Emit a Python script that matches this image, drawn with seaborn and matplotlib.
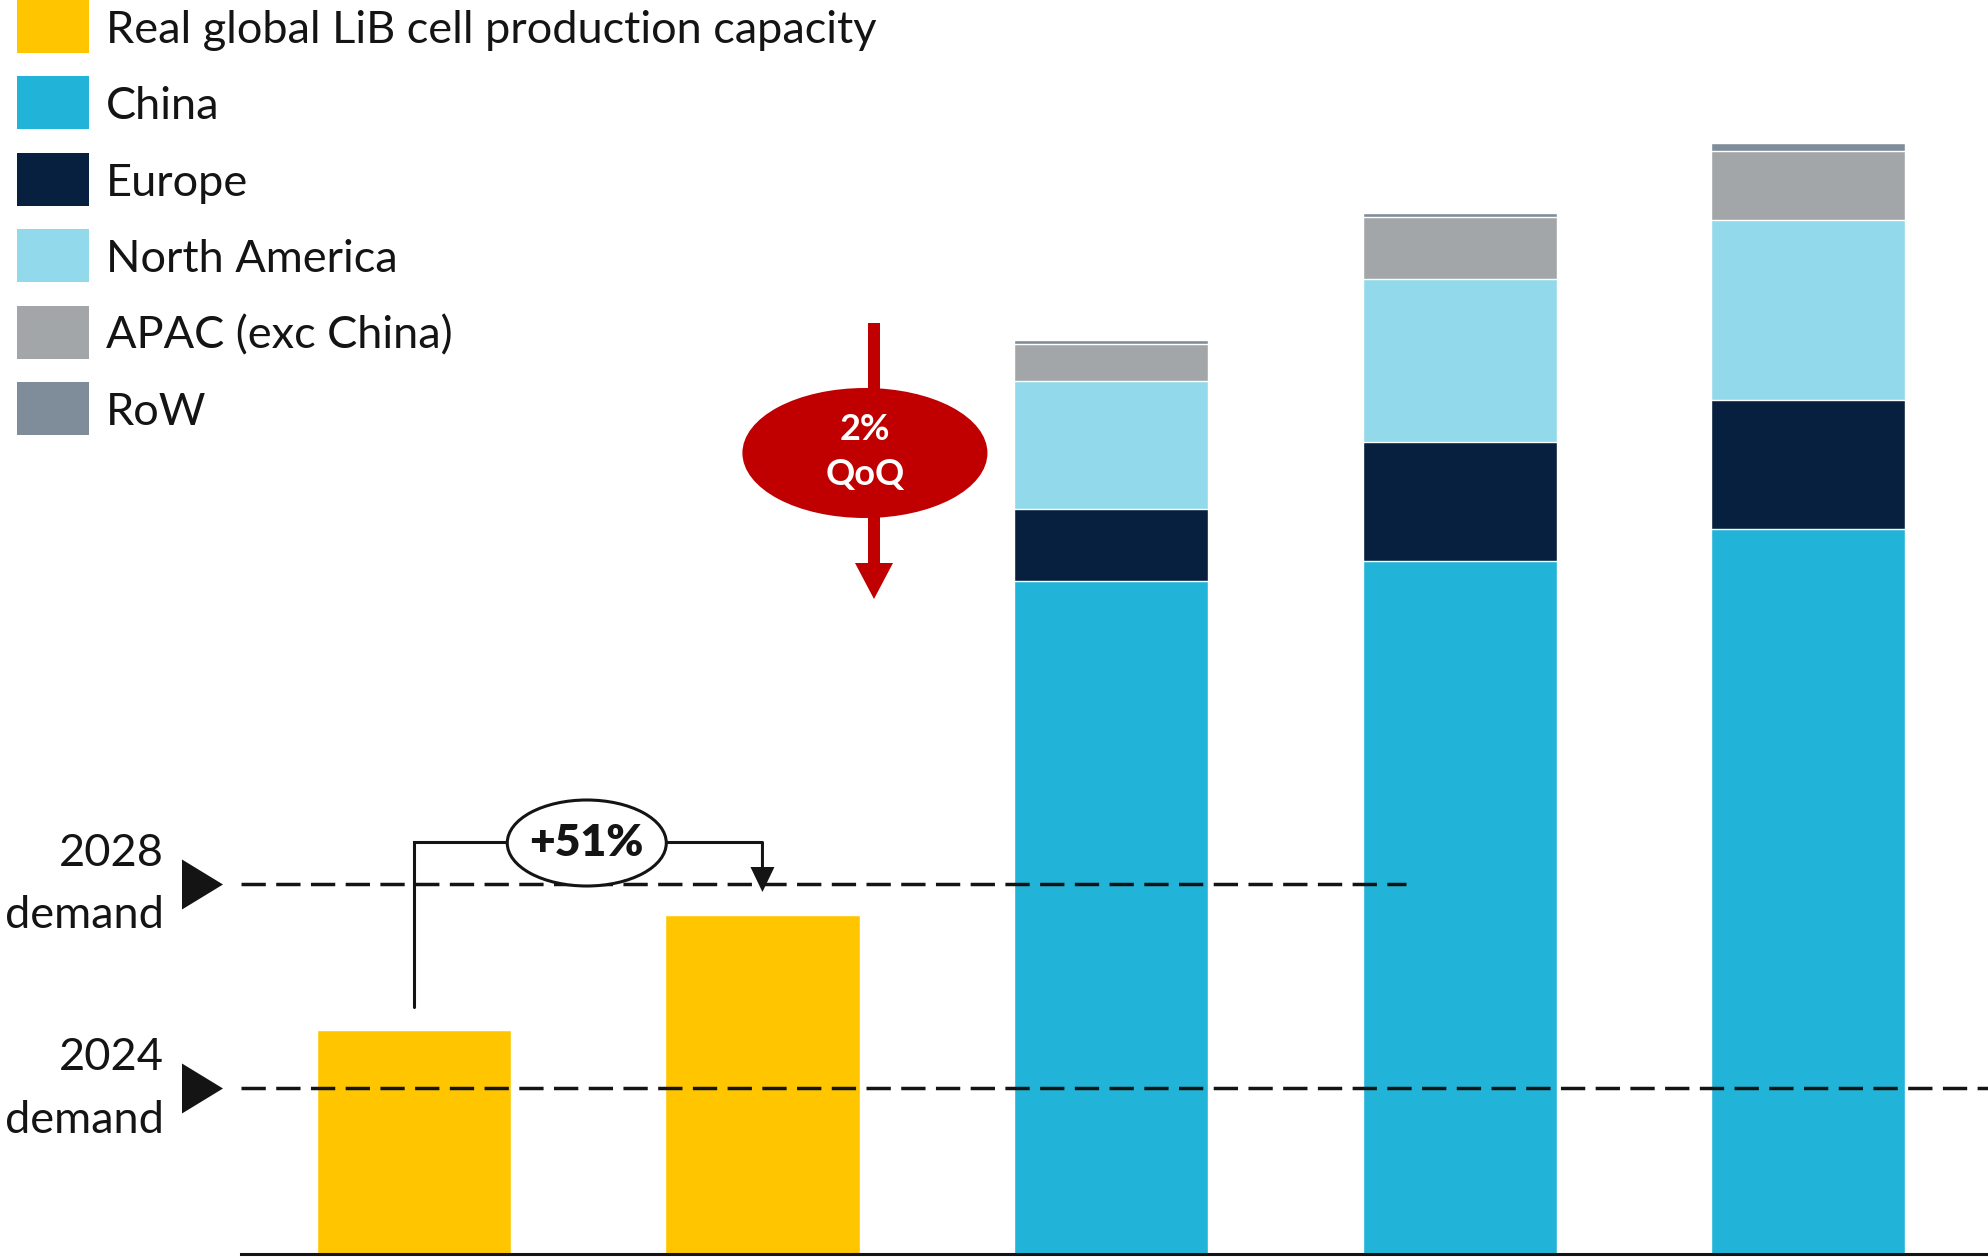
import numpy as np
import pandas as pd
import seaborn as sns
import matplotlib.pyplot as plt
from matplotlib.patches import Ellipse, Rectangle

# bar slots (no axis labels are shown on the chart)
bars = ["real_a", "real_b", "nameplate_a", "nameplate_b", "nameplate_c"]

# GWh
real_capacity = [1570, 2370]
china = [4710, 4850, 5075]
europe = [505, 835, 905]
north_america = [895, 1140, 1255]
apac = [260, 435, 485]
row = [28, 28, 55]

demand_2024 = 1160
demand_2028 = 2590

legend_labels = ["Real global LiB cell production capacity", "China", "Europe",
                 "North America", "APAC (exc China)", "RoW"]
colors = {
    "real": "#FFC600",
    "China": "#22B4D8",
    "Europe": "#07203F",
    "North America": "#92DAEB",
    "APAC (exc China)": "#A3A6A9",
    "RoW": "#7F8D9B",
}
RED = "#C00000"
INK = "#141414"
FS = 32.5

sns.set_theme(style="white")
plt.rcParams["font.family"] = ["Lato", "DejaVu Sans"]

W, H = 1988, 1257
fig = plt.figure(figsize=(W / 100, H / 100), dpi=100)
ax = fig.add_axes([241 / W, 3 / H, 1 - 241 / W, 1254 / H])

bar_w = 0.557

# yellow bars
real_df = pd.DataFrame({"bar": bars[:2], "value": real_capacity})
sns.barplot(data=real_df, x="bar", y="value", order=bars, color=colors["real"],
            saturation=1, width=bar_w, errorbar=None, ax=ax, zorder=2)

# stacked bars: draw cumulative totals from the top down
stack = pd.DataFrame({"China": china, "Europe": europe, "North America": north_america,
                      "APAC (exc China)": apac, "RoW": row}, index=bars[2:])
cum = stack.cumsum(axis=1)
for region in reversed(stack.columns):
    sns.barplot(x=cum.index, y=cum[region].values, order=bars, color=colors[region],
                saturation=1, width=bar_w, errorbar=None, ax=ax, zorder=2)

ax.set_xlim(-0.496, 4.516)
ax.set_ylim(0, 8778)
ax.set_xticks([])
ax.set_yticks([])
ax.set_xlabel("")
ax.set_ylabel("")
for s in ["left", "right", "top"]:
    ax.spines[s].set_visible(False)
ax.spines["bottom"].set_color(INK)
ax.spines["bottom"].set_linewidth(2.2)

# demand lines
ax.plot([-0.496, 4.516], [demand_2024] * 2, color=INK, lw=2.5, dashes=(7, 3), zorder=4)
ax.plot([-0.496, 2.846], [demand_2028] * 2, color=INK, lw=2.5, dashes=(7, 3), zorder=4)

tri = [(-0.82, 1), (-0.82, -1), (0.82, 0)]
for year, val in [("2024", demand_2024), ("2028", demand_2028)]:
    ax.plot([-0.607], [val], marker=tri, ms=36, color=INK, mec=INK, mew=0, clip_on=False,
            zorder=5)
    ax.annotate(year, xy=(-0.717, val), xytext=(0, 22), textcoords="offset points",
                ha="right", va="center", fontsize=FS, color=INK, annotation_clip=False)
    ax.annotate("demand", xy=(-0.717, val), xytext=(0, -23), textcoords="offset points",
                ha="right", va="center", fontsize=FS, color=INK, annotation_clip=False)

# +51% bracket
px_x = 1 / 348.5
px_y = 7.0
br_top = 2884
ax.plot([0, 0, 1], [1729, br_top, br_top], color=INK, lw=2.2, zorder=5,
        solid_joinstyle="miter")
ax.arrow(1, br_top, 0, -(br_top - 2534), width=3 * px_x, head_width=24 * px_x,
         head_length=25 * px_y, length_includes_head=True, color=INK, lw=0, zorder=5)
ax.add_patch(Ellipse((0.496, 2877), 159 * px_x, 86 * px_y, facecolor="white",
                     edgecolor=INK, lw=2.2, zorder=6))
growth = real_capacity[1] / real_capacity[0] - 1
ax.text(0.496, 2877, f"+{growth:.0%}", ha="center", va="center", fontsize=32,
        fontweight="heavy", color=INK, zorder=7)

# red QoQ arrow
ax.arrow(1.320, 6517, 0, -(6517 - 4585), width=12 * px_x, head_width=38 * px_x,
         head_length=36 * px_y, length_includes_head=True, color=RED, lw=0, zorder=5)
ax.add_patch(Ellipse((1.294, 5607), 245 * px_x, 130 * px_y, facecolor=RED,
                     edgecolor="none", zorder=6))
ax.text(1.294, 5607 + 23 * px_y, "2%", ha="center", va="center", fontsize=26,
        fontweight="bold", color="white", zorder=7)
ax.text(1.294, 5607 - 22 * px_y, "QoQ", ha="center", va="center", fontsize=26,
        fontweight="bold", color="white", zorder=7)

# legend, drawn as a key column in the top-left corner
handle_colors = [colors["real"]] + [colors[r] for r in legend_labels[1:]]
for i, (lab, c) in enumerate(zip(legend_labels, handle_colors)):
    top = i * 76.4
    fig.add_artist(Rectangle((17 / W, 1 - (top + 53) / H), 72 / W, 53 / H,
                             transform=fig.transFigure, facecolor=c, edgecolor="none"))
    fig.text(106 / W, 1 - (top + 43) / H, lab, va="baseline", ha="left", fontsize=FS,
             color=INK)

fig.savefig("out.png", dpi=100)
